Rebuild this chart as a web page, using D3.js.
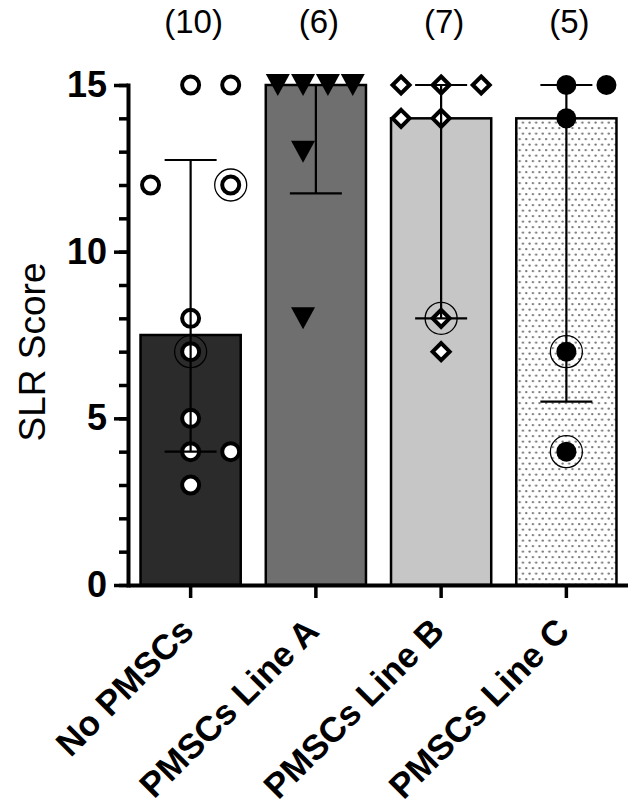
<!DOCTYPE html>
<html>
<head>
<meta charset="utf-8">
<script src="https://cdn.jsdelivr.net/npm/d3@7"></script>
<style>
  body { margin: 0; background: #fff; }
  text { font-family: "Liberation Sans", Arial, sans-serif; }
</style>
</head>
<body>
<svg id="canvas" width="628" height="809"></svg>
<script>
// groups and raw scores
let groups = ['No PMSCs', 'PMSCs Line A', 'PMSCs Line B', 'PMSCs Line C'];

let noPmscs = [15, 15, 12, 12, 8, 7, 5, 4, 4, 3];
let lineA = [15, 15, 15, 15, 13, 8];
let lineB = [15, 15, 15, 14, 14, 8, 7];
let lineC = [15, 15, 14, 7, 4];

// sideways slot of each point (how far it was pushed off the centre)
let noPmscsSlot = [0, 1, -1, 1, 0, 0, 0, 0, 1, 0];
let lineASlot = [-0.95, -0.32, 0.3, 0.92, -0.32, -0.32];
let lineBSlot = [-1, 0, 1, -1, 0, 0, 0];
let lineCSlot = [0, 1, 0, 0, 0];

// points with a thin ring round them
let noPmscsRing = [0, 0, 0, 1, 0, 1, 0, 0, 0, 0];
let lineARing = [0, 0, 0, 0, 0, 0];
let lineBRing = [0, 0, 0, 0, 0, 1, 0];
let lineCRing = [0, 0, 0, 1, 1];

// median bars and interquartile error bars
let medians = [7.5, 15, 14, 14];
let q1 = [4, 11.75, 8, 5.5];
let q3 = [12.75, 15, 15, 15];

let yTicks = [0, 5, 10, 15];

let values = [noPmscs, lineA, lineB, lineC];
let slots = [noPmscsSlot, lineASlot, lineBSlot, lineCSlot];
let rings = [noPmscsRing, lineARing, lineBRing, lineCRing];

let canvas = d3.select('#canvas');

let x = d3.scaleBand()
    .domain(groups)
    .range([128, 629])
    .paddingInner(0.2)
    .paddingOuter(0.1);

let y = d3.scaleLinear()
    .domain([0, 15])
    .range([585, 85]);

let slotWidth = x.bandwidth() * 0.4;

// dotted fill for the last bar
let defs = canvas.append('defs');
let pat = defs.append('pattern')
    .attr('id', 'dots')
    .attr('patternUnits', 'userSpaceOnUse')
    .attr('width', 6.6)
    .attr('height', 11);
pat.append('rect').attr('width', 6.6).attr('height', 11).attr('fill', '#fff');
pat.append('circle').attr('cx', 1.6).attr('cy', 1.6).attr('r', 1.2).attr('fill', '#7a7a7a');
pat.append('circle').attr('cx', 4.9).attr('cy', 7.1).attr('r', 1.2).attr('fill', '#7a7a7a');

let barFills = ['#2b2b2b', '#6f6f6f', '#c6c6c6', 'url(#dots)'];

canvas.selectAll('rect.bar')
    .data(groups)
    .enter()
    .append('rect')
    .attr('class', 'bar')
    .attr('x', (g) => x(g))
    .attr('y', (g, i) => y(medians[i]))
    .attr('width', x.bandwidth())
    .attr('height', (g, i) => y(0) - y(medians[i]))
    .attr('fill', (g, i) => barFills[i])
    .attr('stroke', '#000')
    .attr('stroke-width', 2.5);

// flatten points
let points = [];
groups.forEach((g, i) => {
    values[i].forEach((v, j) => {
        points.push({ group: i, value: v, slot: slots[i][j], ring: rings[i][j] });
    });
});

let px = (d) => x(groups[d.group]) + x.bandwidth() / 2 + d.slot * slotWidth;

canvas.selectAll('circle.ring')
    .data(points.filter((d) => d.ring))
    .enter()
    .append('circle')
    .attr('class', 'ring')
    .attr('cx', px)
    .attr('cy', (d) => y(d.value))
    .attr('r', 16)
    .attr('fill', 'none')
    .attr('stroke', '#000')
    .attr('stroke-width', 1.3);

let marker = (d) => {
    if (d.group === 0) {
        return 'M8.5,0A8.5,8.5,0,1,1,-8.5,0A8.5,8.5,0,1,1,8.5,0Z';
    } else if (d.group === 1) {
        return 'M-12,-11L12,-11L0,11Z';
    } else if (d.group === 2) {
        return 'M0,-8.5L8.5,0L0,8.5L-8.5,0Z';
    } else {
        return 'M10,0A10,10,0,1,1,-10,0A10,10,0,1,1,10,0Z';
    }
};

canvas.selectAll('path.point')
    .data(points)
    .enter()
    .append('path')
    .attr('class', 'point')
    .attr('transform', (d) => 'translate(' + px(d) + ',' + y(d.value) + ')')
    .attr('d', marker)
    .attr('fill', (d) => (d.group === 0 || d.group === 2) ? '#fff' : '#000')
    .attr('stroke', '#000')
    .attr('stroke-width', (d) => (d.group === 0 || d.group === 2) ? 4 : 0)
    .attr('stroke-linejoin', 'miter');

// error bars
let err = canvas.selectAll('g.err')
    .data(groups)
    .enter()
    .append('g')
    .attr('class', 'err')
    .attr('stroke', '#000')
    .attr('stroke-width', 2.2);

let cx = (g) => x(g) + x.bandwidth() / 2;
let capHalf = 26;

err.append('line')
    .attr('x1', cx).attr('x2', cx)
    .attr('y1', (g, i) => y(q1[i]))
    .attr('y2', (g, i) => y(q3[i]));
err.append('line')
    .attr('x1', (g) => cx(g) - capHalf).attr('x2', (g) => cx(g) + capHalf)
    .attr('y1', (g, i) => y(q1[i]))
    .attr('y2', (g, i) => y(q1[i]));
err.append('line')
    .attr('x1', (g) => cx(g) - capHalf).attr('x2', (g) => cx(g) + capHalf)
    .attr('y1', (g, i) => y(q3[i]))
    .attr('y2', (g, i) => y(q3[i]));

// y axis: minor ticks every unit, then major with labels
canvas.append('g')
    .attr('transform', 'translate(128,0)')
    .call(d3.axisLeft(y).tickValues(d3.range(0, 16)).tickSize(9).tickFormat(''))
    .call((g) => g.select('.domain').remove())
    .selectAll('line').attr('stroke-width', 3.5);

let yAxis = canvas.append('g')
    .attr('transform', 'translate(128,0)')
    .call(d3.axisLeft(y).tickValues(yTicks).tickSize(14).tickSizeOuter(0).tickPadding(7));
yAxis.select('.domain').attr('stroke-width', 4).attr('stroke-linecap', 'square');
yAxis.selectAll('line').attr('stroke-width', 3.5);
yAxis.selectAll('text')
    .attr('font-size', 36)
    .attr('font-weight', 'bold')
    .attr('fill', '#000');

let xAxis = canvas.append('g')
    .attr('transform', 'translate(0,585)')
    .call(d3.axisBottom(x).tickSize(13).tickSizeOuter(0));
xAxis.select('.domain').attr('stroke-width', 4);
xAxis.selectAll('line').attr('stroke-width', 3.5);
xAxis.selectAll('text')
    .attr('x', 0)
    .attr('y', 0)
    .attr('dy', null)
    .attr('transform', 'translate(5,48) rotate(-45)')
    .attr('text-anchor', 'end')
    .attr('font-size', 35)
    .attr('font-weight', 'bold')
    .attr('fill', '#000');

// n per group above bars
canvas.selectAll('text.count')
    .data(groups)
    .enter()
    .append('text')
    .attr('class', 'count')
    .attr('x', (g) => cx(g) + 3)
    .attr('y', 33)
    .attr('text-anchor', 'middle')
    .attr('font-size', 33)
    .text((g, i) => '(' + values[i].length + ')');

canvas.append('text')
    .attr('transform', 'translate(45,352) rotate(-90)')
    .attr('text-anchor', 'middle')
    .attr('font-size', 37)
    .text('SLR Score');
</script>
</body>
</html>
